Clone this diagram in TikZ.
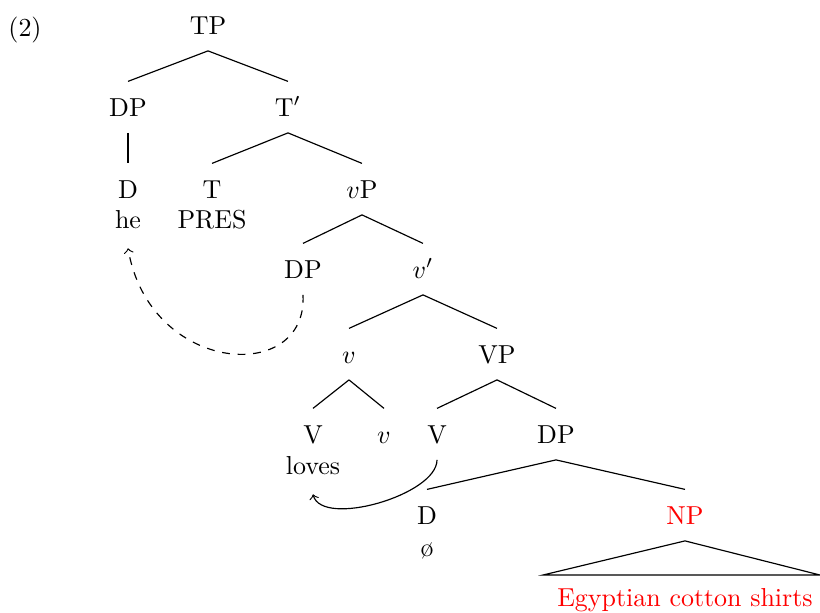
\documentclass[tikz,border=0pt]{standalone}
\begin{document}
\begin{tikzpicture}[x=0.385pt,y=-0.385pt,
  cat/.style={anchor=base,inner xsep=0pt,inner ysep=6.3pt,text height=6.83pt,text depth=0pt},
  wrd/.style={anchor=base,inner xsep=2pt,inner ysep=7.5pt},
  br/.style={line width=0.45pt}]
\useasboundingbox (0,0) rectangle (820,612);
\node[anchor=base] (ex) at (25,36) {(2)};
\node[cat] (TP) at (208,34) {TP};
\node[cat] (DP1) at (128,116) {DP};
\node[cat] (Tb) at (288,116) {T$'$};
\node[cat] (D1) at (128,198) {D};
\node[wrd] (he) at (128,228) {he};
\node[cat] (T) at (212,198) {T};
\node[wrd] (pres) at (212,228) {PRES};
\node[cat] (vP) at (362,198) {$v$P};
\node[cat] (DP2) at (303,278) {DP};
\node[cat] (vb) at (423,278) {$v'$};
\node[cat] (v1) at (349,363) {$v$};
\node[cat] (VP) at (497,363) {VP};
\node[cat] (V1) at (313,443) {V};
\node[wrd] (loves) at (313,474) {loves};
\node[cat] (v2) at (384,443) {$v$};
\node[cat] (V2) at (437,443) {V};
\node[cat] (DP3) at (556,443) {DP};
\node[cat] (D2) at (427,524) {D};
\node[wrd] (null) at (427,556) {\o};
\node[cat,text=red] (NP) at (685,524) {NP};
\node[wrd,text=red] (egy) at (685,606) {Egyptian cotton shirts};
\coordinate (bl) at (543,575);
\coordinate (brc) at (820,575);
\draw[br] (TP.south) -- (DP1.north);
\draw[br] (TP.south) -- (Tb.north);
\draw[br] (DP1.south) -- (D1.north);
\draw[br] (Tb.south) -- (T.north);
\draw[br] (Tb.south) -- (vP.north);
\draw[br] (vP.south) -- (DP2.north);
\draw[br] (vP.south) -- (vb.north);
\draw[br] (vb.south) -- (v1.north);
\draw[br] (vb.south) -- (VP.north);
\draw[br] (v1.south) -- (V1.north);
\draw[br] (v1.south) -- (v2.north);
\draw[br] (VP.south) -- (V2.north);
\draw[br] (VP.south) -- (DP3.north);
\draw[br] (DP3.south) -- (D2.north);
\draw[br] (DP3.south) -- (NP.north);
\draw[br] (NP.south) -- (bl) -- (brc) -- cycle;
\draw[br,dashed,->] (DP2.south) .. controls (308,385) and (150,375) .. (he.south);
\draw[br,->] (V2.south) .. controls (437,495) and (322,528) .. (loves.south);
\end{tikzpicture}
\end{document}
